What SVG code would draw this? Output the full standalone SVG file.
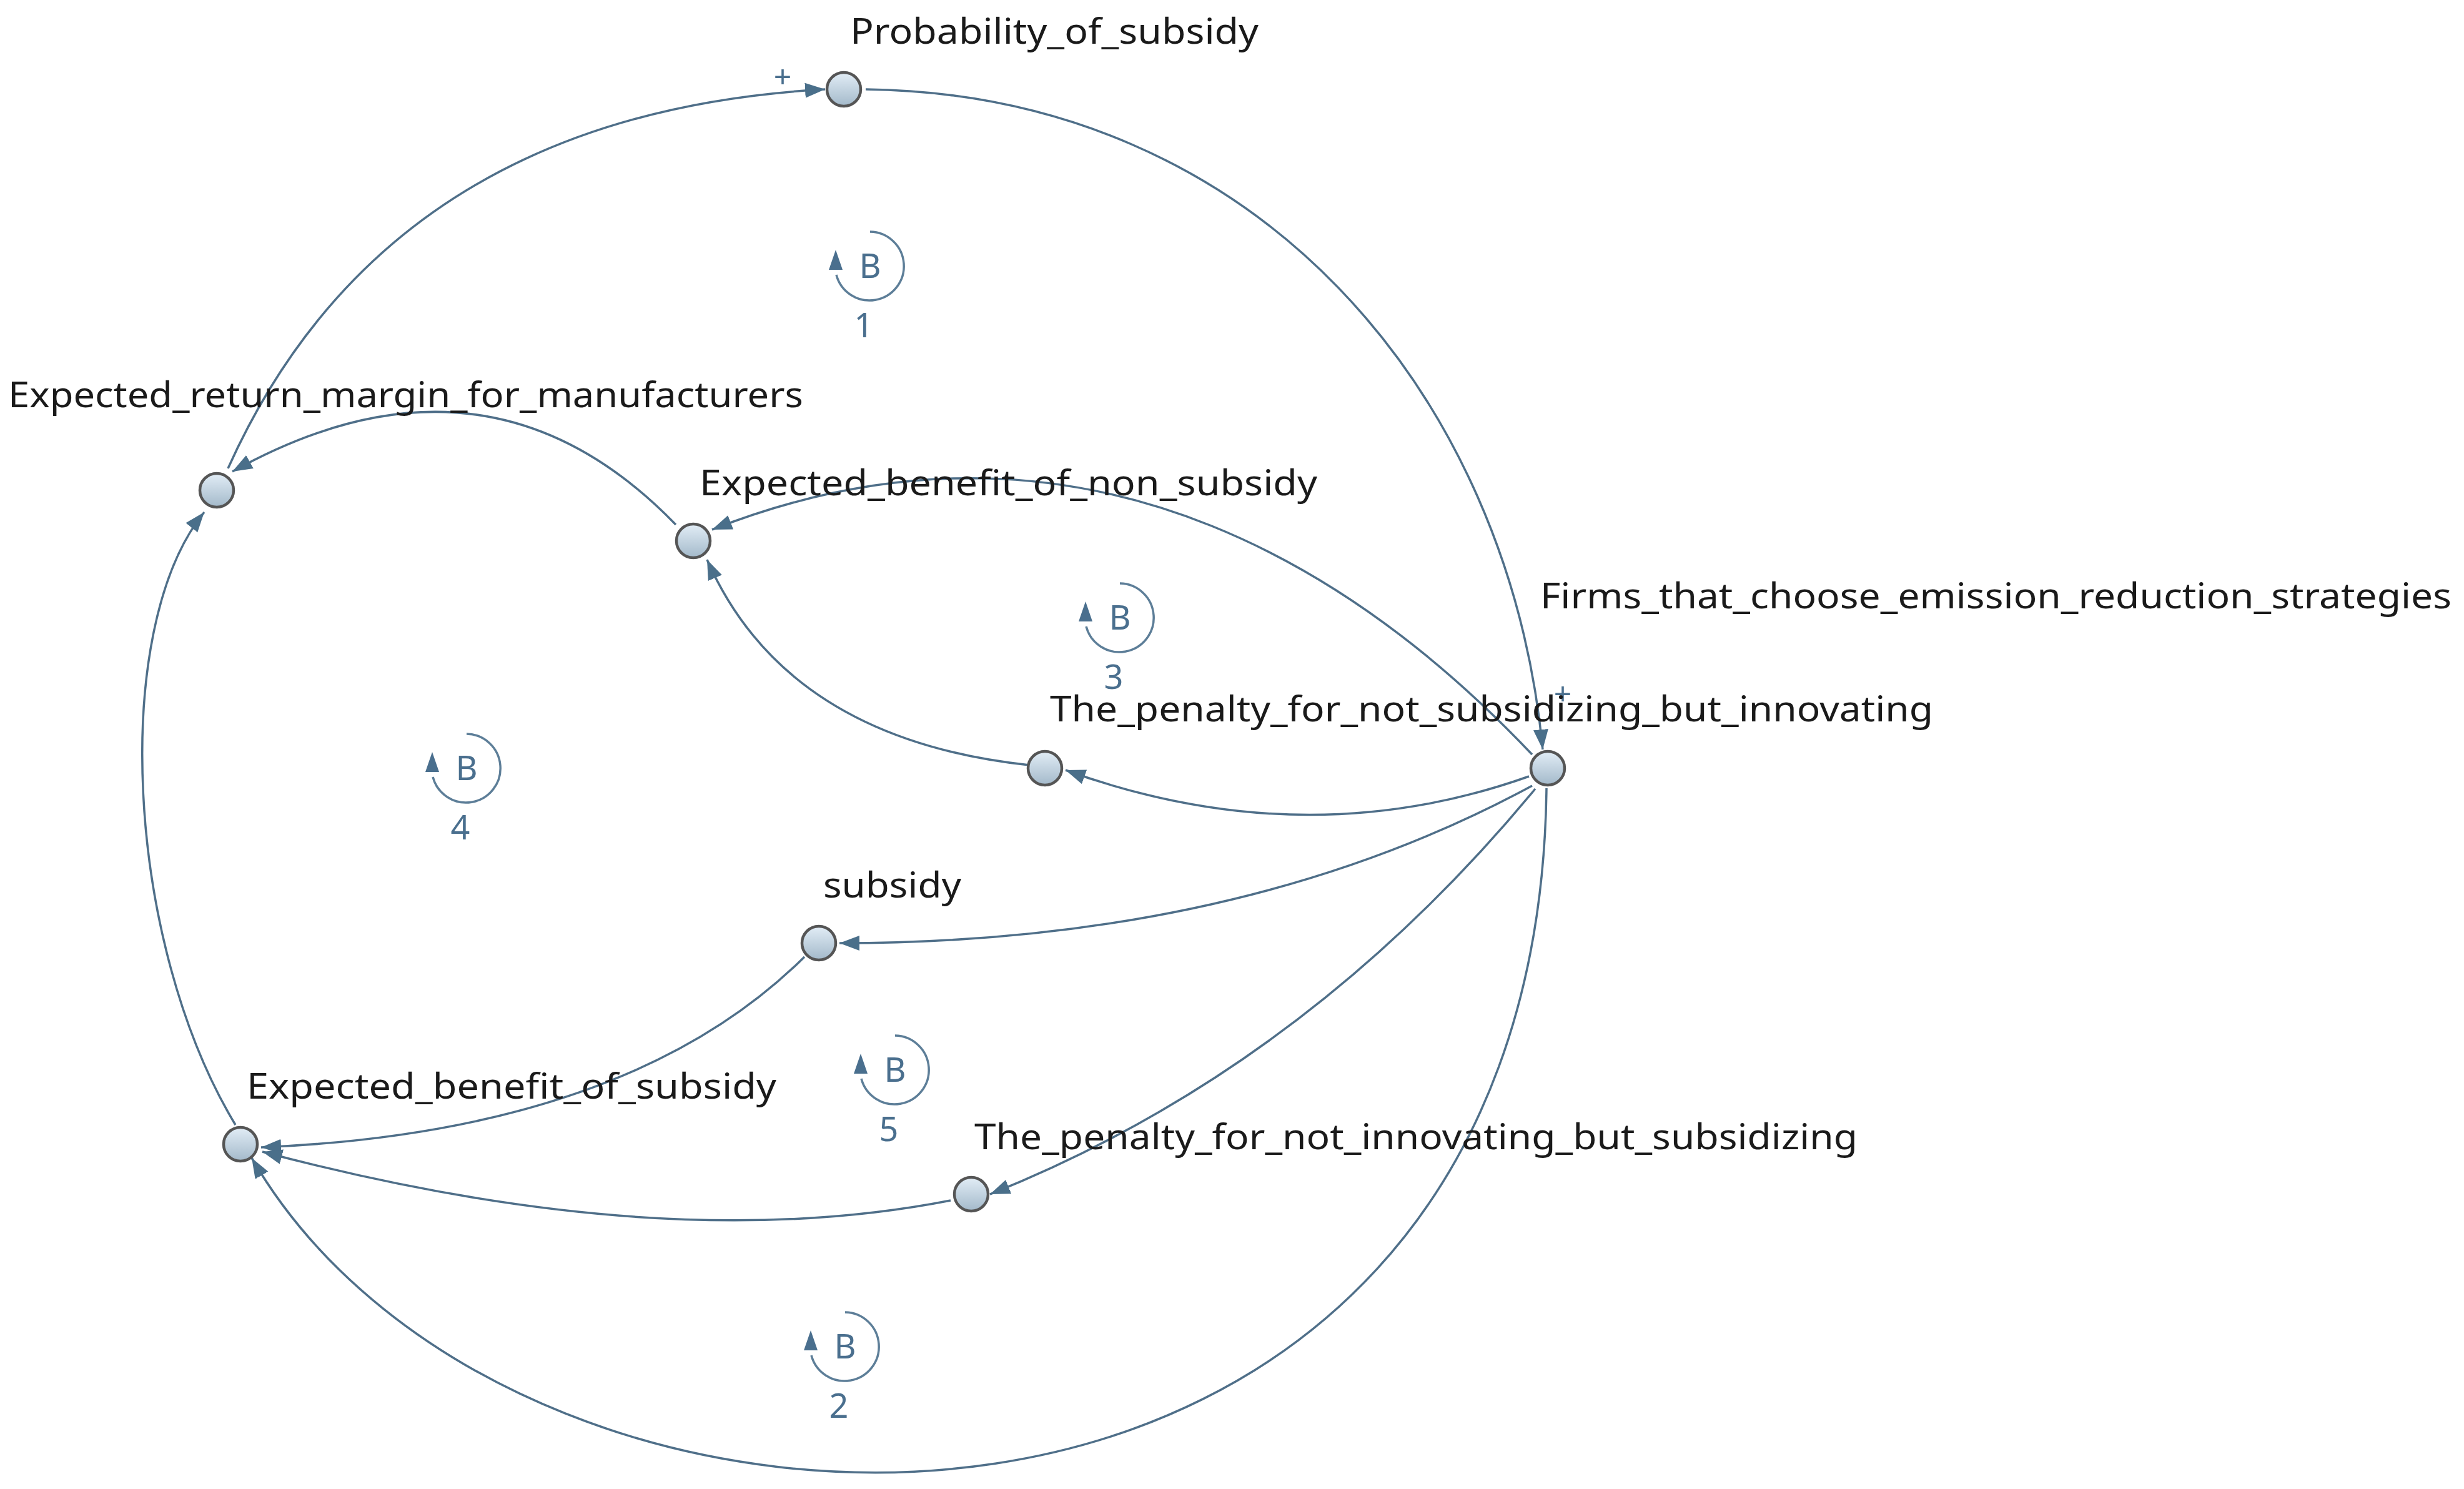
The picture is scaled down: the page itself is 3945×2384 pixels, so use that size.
<svg xmlns="http://www.w3.org/2000/svg" width="3945" height="2384" viewBox="0 0 3945 2384">
<style>
.lbl{font-family:"Noto Sans","Open Sans",sans-serif;font-size:56px;fill:#1a1a1a}
.c{fill:none;stroke:#4f6f89;stroke-width:3.5}
.node{fill:url(#g);stroke:#555;stroke-width:4.5}
.lp{fill:none;stroke:#5d7e98;stroke-width:3.5}
.lt{font-family:"Noto Sans","Open Sans",sans-serif;font-size:54px;fill:#4a6f8e;text-anchor:middle}
.la{fill:#4a6f8e}
</style>
<defs>
<linearGradient id="g" x1="0" y1="0" x2="0" y2="1"><stop offset="0" stop-color="#e2edf6"/><stop offset="1" stop-color="#a3b9ca"/></linearGradient>
<marker id="a" markerUnits="userSpaceOnUse" markerWidth="34" markerHeight="28" refX="32" refY="14" orient="auto"><path d="M0,2 L32,14 L0,26 z" fill="#4a6f8a"/></marker>
</defs>
<rect width="3945" height="2384" fill="#fff"/>
<g id="connectors">
<path class="c" marker-end="url(#a)" d="M365,750 Q620,182 1321,143"/>
<path class="c" marker-end="url(#a)" d="M1386,143 C2013,151 2415,629 2470,1200"/>
<path class="c" marker-end="url(#a)" d="M2476,1262 C2460,2620 830,2590 403,1854"/>
<path class="c" marker-end="url(#a)" d="M377,1801 C201,1510 176,1006 327,820"/>
<path class="c" marker-end="url(#a)" d="M1082,840 Q780,528 372,755"/>
<path class="c" marker-end="url(#a)" d="M2453,1208 C2214,956 1761,604 1140,848"/>
<path class="c" marker-end="url(#a)" d="M1648,1225 Q1258,1183 1132,896"/>
<path class="c" marker-end="url(#a)" d="M2448,1243 Q2088,1371 1706,1233"/>
<path class="c" marker-end="url(#a)" d="M2453,1258 Q1988,1510 1344,1510"/>
<path class="c" marker-end="url(#a)" d="M2458,1263 Q2088,1711 1585,1912"/>
<path class="c" marker-end="url(#a)" d="M1288,1532 Q1006,1812 418,1837"/>
<path class="c" marker-end="url(#a)" d="M1522,1922 Q1057,2013 420,1844"/>
<text x="1253" y="140" style="font-family:'Noto Sans',sans-serif;font-size:50px;fill:#4a6f8e" text-anchor="middle">+</text>
<text x="2502" y="1128" style="font-family:'Noto Sans',sans-serif;font-size:50px;fill:#4a6f8e" text-anchor="middle">+</text>
</g>
<g id="n_prob"><circle class="node" cx="1351" cy="143" r="27"/><text class="lbl" x="1361" y="70" textLength="654" lengthAdjust="spacingAndGlyphs">Probability_of_subsidy</text></g>
<g id="n_erm"><circle class="node" cx="347" cy="785" r="27"/><text class="lbl" x="13" y="652" textLength="1273" lengthAdjust="spacingAndGlyphs">Expected_return_margin_for_manufacturers</text></g>
<g id="n_ebns"><circle class="node" cx="1110" cy="866" r="27"/><text class="lbl" x="1120" y="793" textLength="989" lengthAdjust="spacingAndGlyphs">Expected_benefit_of_non_subsidy</text></g>
<g id="n_firms"><circle class="node" cx="2478" cy="1230" r="27"/><text class="lbl" x="2466" y="974" textLength="1459" lengthAdjust="spacingAndGlyphs">Firms_that_choose_emission_reduction_strategies</text></g>
<g id="n_pns"><circle class="node" cx="1673" cy="1230" r="27"/><text class="lbl" x="1681" y="1155" textLength="1414" lengthAdjust="spacingAndGlyphs">The_penalty_for_not_subsidizing_but_innovating</text></g>
<g id="n_sub"><circle class="node" cx="1311" cy="1510" r="27"/><text class="lbl" x="1318" y="1437" textLength="221" lengthAdjust="spacingAndGlyphs">subsidy</text></g>
<g id="n_ebs"><circle class="node" cx="385" cy="1832" r="27"/><text class="lbl" x="395" y="1759" textLength="848" lengthAdjust="spacingAndGlyphs">Expected_benefit_of_subsidy</text></g>
<g id="n_pni"><circle class="node" cx="1555" cy="1912" r="27"/><text class="lbl" x="1560" y="1840" textLength="1414" lengthAdjust="spacingAndGlyphs">The_penalty_for_not_innovating_but_subsidizing</text></g>
<g id="loops">
<g id="loop1" transform="translate(1393,426)"><path class="lp" d="M0,-55 A55,55 0 1 1 -54,14"/><path class="la" d="M-55,-26 L-66,6 L-44,6 z"/><text class="lt" x="0" y="19">B</text><text class="lt" x="-10" y="114">1</text></g>
<g id="loop2" transform="translate(1353,2156)"><path class="lp" d="M0,-55 A55,55 0 1 1 -54,14"/><path class="la" d="M-55,-26 L-66,6 L-44,6 z"/><text class="lt" x="0" y="19">B</text><text class="lt" x="-10" y="114">2</text></g>
<g id="loop3" transform="translate(1793,989)"><path class="lp" d="M0,-55 A55,55 0 1 1 -54,14"/><path class="la" d="M-55,-26 L-66,6 L-44,6 z"/><text class="lt" x="0" y="19">B</text><text class="lt" x="-10" y="114">3</text></g>
<g id="loop4" transform="translate(747,1230)"><path class="lp" d="M0,-55 A55,55 0 1 1 -54,14"/><path class="la" d="M-55,-26 L-66,6 L-44,6 z"/><text class="lt" x="0" y="19">B</text><text class="lt" x="-10" y="114">4</text></g>
<g id="loop5" transform="translate(1433,1713)"><path class="lp" d="M0,-55 A55,55 0 1 1 -54,14"/><path class="la" d="M-55,-26 L-66,6 L-44,6 z"/><text class="lt" x="0" y="19">B</text><text class="lt" x="-10" y="114">5</text></g>
</g>
</svg>
